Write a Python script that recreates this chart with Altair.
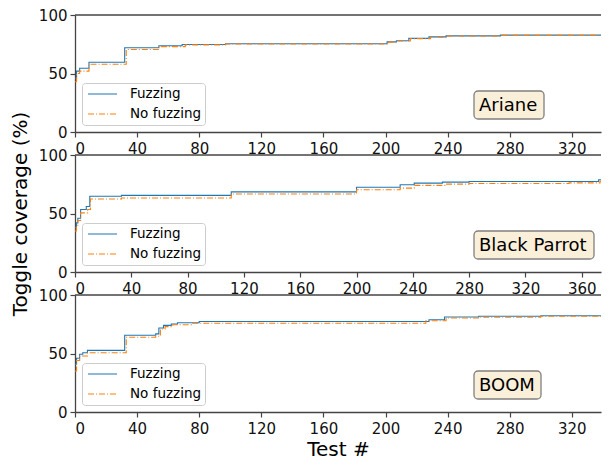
import altair as alt
import pandas as pd

SERIES = ["Fuzzing", "No fuzzing"]
COLORS = ["#1f77b4", "#ff7f0e"]
DASHES = [[1, 0], [6, 2, 1, 2]]

# Ariane
ariane_fuzz_t = [0, 1, 3, 9, 32, 54, 69, 97, 201, 207, 215, 228, 239, 274, 345]
ariane_fuzz_v = [46, 52, 54.5, 59.6, 72, 73.7, 74.8, 75.4, 77, 78, 80, 81.3, 82.2, 82.8, 82.8]
ariane_nofuzz_t = [0, 1, 3, 9, 33, 54, 71, 97, 202, 208, 216, 229, 240, 274, 345]
ariane_nofuzz_v = [43, 50, 52, 57.9, 70.5, 73, 74.5, 75.2, 76.8, 77.8, 79.8, 81, 82, 82.6, 82.6]

# Black Parrot
bp_fuzz_t = [0, 1, 2, 4, 8, 10.5, 33, 111, 200, 231, 241, 261, 280, 372, 380]
bp_fuzz_v = [38, 42, 46, 53.4, 56, 64.8, 65.5, 68.5, 72.4, 74.6, 76, 76.8, 77.4, 78.8, 78.8]
bp_nofuzz_t = [0, 1, 2, 4, 9, 11, 33, 111, 200, 231, 241, 264, 280, 351, 373, 380]
bp_nofuzz_v = [35, 39, 44, 50.5, 53.4, 62.4, 63.2, 66.7, 70.3, 71.7, 74, 75.1, 75.7, 76.2, 77.7, 77.7]

# BOOM
boom_fuzz_t = [0, 1, 3, 5, 8, 32, 52, 54, 57, 62, 66, 80, 228, 238, 260, 300, 345]
boom_fuzz_v = [40.8, 46, 49.3, 50.7, 52.7, 65.6, 66.8, 71.8, 74, 75.2, 76.3, 77.3, 78.9, 81.2, 81.8, 82.3, 82.5]
boom_nofuzz_t = [0, 1, 3, 8, 33, 52, 55, 58, 63, 75, 226, 239, 260, 300, 345]
boom_nofuzz_v = [35, 44, 47.9, 50.7, 63.9, 64.8, 71, 73, 74.6, 75.8, 78, 80.3, 81, 81.8, 82.2]

ticks_345 = [0, 40, 80, 120, 160, 200, 240, 280, 320]
ticks_380 = [0, 40, 80, 120, 160, 200, 240, 280, 320, 360]

FONT = "DejaVu Sans"
W = 526
H = 117
SPINE = "#444444"


def legend():
    return alt.Legend(
        title=None, orient="bottom-left", offset=7, padding=3,
        fillColor="white", strokeColor="#cccccc", cornerRadius=3,
        symbolType="stroke", symbolSize=841, symbolStrokeWidth=1.2,
        symbolOffset=2, clipHeight=16,
        labelFontSize=13.5, labelFont=FONT, labelOffset=12, rowPadding=4,
        labelColor="black",
    )


def panel(name, ft, fv, nt, nv, xmax, xticks, box_w, ytitle, xtitle):
    df = pd.DataFrame({
        "t": ft + nt,
        "v": fv + nv,
        "series": ["Fuzzing"] * len(ft) + ["No fuzzing"] * len(nt),
    })
    xaxis = alt.Axis(values=xticks, title=xtitle) if xtitle else alt.Axis(values=xticks, title=None)
    yaxis = alt.Axis(values=[0, 50, 100], title=ytitle) if ytitle else alt.Axis(values=[0, 50, 100], title=None)
    lines = alt.Chart(df).mark_line(interpolate="step-after", strokeWidth=1.1, clip=True).encode(
        x=alt.X("t:Q", scale=alt.Scale(domain=[0, xmax], nice=False, zero=False), axis=xaxis),
        y=alt.Y("v:Q", scale=alt.Scale(domain=[0, 100], nice=False), axis=yaxis),
        color=alt.Color("series:N", scale=alt.Scale(domain=SERIES, range=COLORS), legend=legend()),
        strokeDash=alt.StrokeDash("series:N", scale=alt.Scale(domain=SERIES, range=DASHES), legend=legend()),
        order=alt.Order("series:N"),
    )
    lab = pd.DataFrame({"label": [name]})
    top = alt.Chart(lab).mark_rule(color=SPINE, strokeWidth=1.3).encode(
        x=alt.value(0), x2=alt.value(W), y=alt.value(0)
    )
    box = alt.Chart(lab).mark_rect(
        fill="#faefd9", stroke="#808080", strokeWidth=1.3, cornerRadius=4
    ).encode(
        x=alt.value(399), x2=alt.value(399 + box_w), y=alt.value(H - 41), y2=alt.value(H - 13)
    )
    txt = alt.Chart(lab).mark_text(
        align="left", baseline="middle", font=FONT, fontSize=18, color="black"
    ).encode(text="label:N", x=alt.value(404), y=alt.value(H - 26.5))
    return alt.layer(lines, top, box, txt).properties(width=W, height=H)


# pixel-per-unit kept as in the reference: visible range is cut at the right edge
p1 = panel("Ariane", ariane_fuzz_t, ariane_fuzz_v, ariane_nofuzz_t, ariane_nofuzz_v,
           338.8, ticks_345, 70, None, None)
p2 = panel("Black Parrot", bp_fuzz_t, bp_fuzz_v, bp_nofuzz_t, bp_nofuzz_v,
           373.7, ticks_380, 120, "Toggle coverage (%)", None)
p3 = panel("BOOM", boom_fuzz_t, boom_fuzz_v, boom_nofuzz_t, boom_nofuzz_v,
           338.8, ticks_345, 67, None, "Test #")

chart = alt.vconcat(p1, p2, p3, spacing=23, bounds="flush").resolve_scale(
    x="independent", y="independent", color="independent", strokeDash="independent"
).resolve_legend(
    color="independent", strokeDash="independent"
).properties(
    autosize=alt.AutoSizeParams(type="pad"),
    padding={"left": 2, "top": 0, "right": 0, "bottom": 0},
).configure_view(
    stroke=None
).configure_axis(
    domain=True, domainColor=SPINE, domainWidth=1.3,
    grid=False, tickColor=SPINE, tickSize=5, tickWidth=1.2,
    labelFontSize=15, labelFont=FONT, labelColor="#111111", labelPadding=3,
    titleFontSize=20, titleFont=FONT, titleFontWeight="normal", titleColor="black",
).configure_axisY(
    titlePadding=8
).configure_axisX(
    labelPadding=4, titlePadding=3
)

chart.save("out.html", embed_options={"renderer": "svg", "actions": False})
